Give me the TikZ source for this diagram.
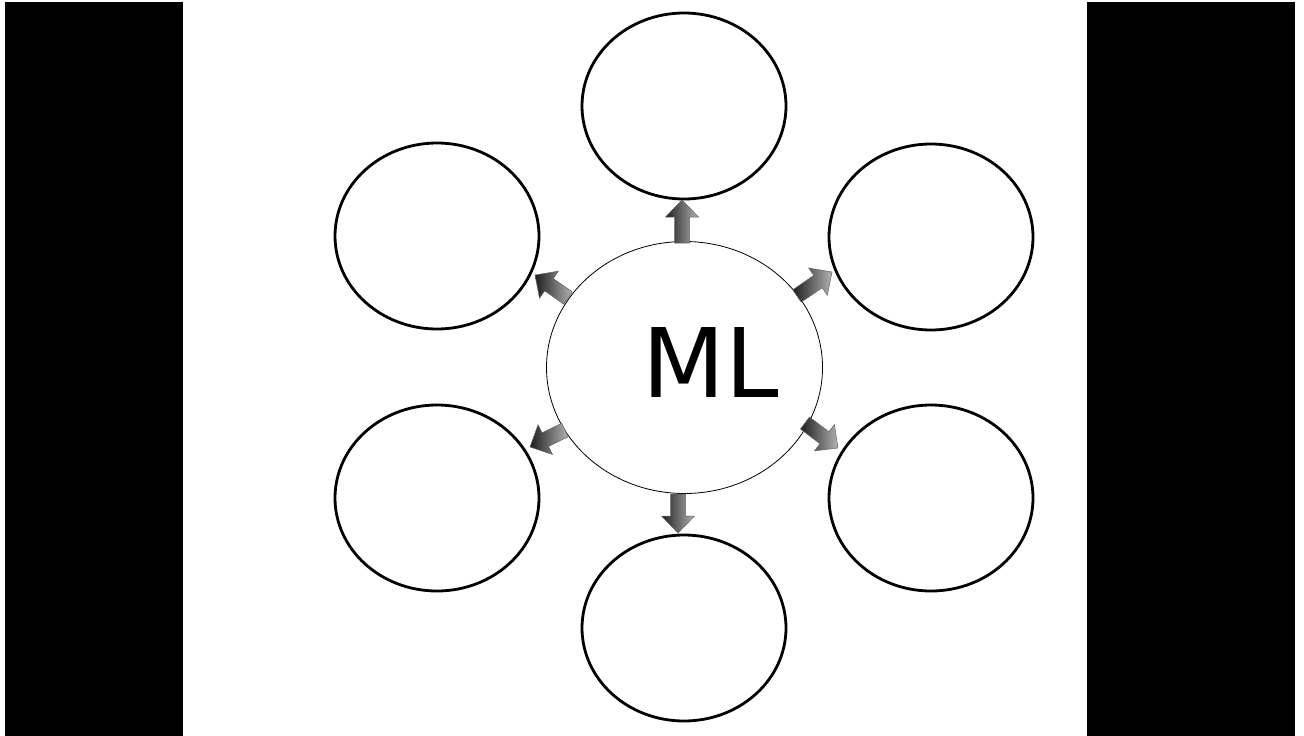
\documentclass[tikz,border=0pt]{standalone}
\usepackage{fontspec}
\newfontfamily\mlfont{DejaVu Sans}
\usetikzlibrary{calc,shapes.geometric}
\tikzset{
  bubble/.style={draw=black, line width=2.8pt, fill=white, ellipse, minimum width=204pt, minimum height=186pt, inner sep=0pt},
  hub/.style={draw=black, line width=0.8pt, fill=white, ellipse, minimum width=276pt, minimum height=252pt, inner sep=0pt},
  blockfill/.style={left color=black!88, right color=black!30, draw=black!60, line width=0.5pt},
  bar/.style={fill=black, draw=none}
}
\newcommand{\blockarrow}[2]{%
  \path let \p1=($(#2)-(#1)$), \n1={atan2(\y1,\x1)}, \n2={veclen(\x1,\y1)} in
    \pgfextra{\xdef\arrang{\n1}\xdef\arrlen{\n2}};
  \begin{scope}[shift={(#1)}, rotate=\arrang]
    \pgfmathsetmacro\hb{\arrlen-17}
    \shade[blockfill] (0,-7.5) -- (\hb,-7.5) -- (\hb,-16.5) -- (\arrlen,0) -- (\hb,16.5) -- (\hb,7.5) -- (0,7.5) -- cycle;
  \end{scope}}
\begin{document}
\begin{tikzpicture}[x=1pt, y=-1pt]
\useasboundingbox (0,0) rectangle (1304,736);
\fill[white] (0,0) rectangle (1304,736);
\fill[bar] (5,2) rectangle (183,736);
\fill[bar] (1087,2) rectangle (1295,736);
% outer bubbles
\node[bubble] (top) at (684,106) {};
\node[bubble] (ul)  at (437,236) {};
\node[bubble] (ur)  at (931,237) {};
\node[bubble] (ll)  at (437,498) {};
\node[bubble] (lr)  at (931,498) {};
\node[bubble] (bot) at (684,628) {};
% hub
\node[hub] (hub) at (684.5,367.5) {};
\node[anchor=base, inner sep=0pt, font=\mlfont\fontsize{96}{96}\selectfont] (ml) at (711,397) {ML};
% arrow anchors
\coordinate (a1) at (682,243); \coordinate (b1) at (682,200);
\coordinate (a2) at (568,298); \coordinate (b2) at (535,275);
\coordinate (a3) at (797,296); \coordinate (b3) at (832,272);
\coordinate (a4) at (565,430); \coordinate (b4) at (530,447);
\coordinate (a5) at (805,423); \coordinate (b5) at (838,448);
\coordinate (a6) at (678,494); \coordinate (b6) at (678,533);
\blockarrow{a1}{b1}
\blockarrow{a2}{b2}
\blockarrow{a3}{b3}
\blockarrow{a4}{b4}
\blockarrow{a5}{b5}
\blockarrow{a6}{b6}
\end{tikzpicture}
\end{document}
